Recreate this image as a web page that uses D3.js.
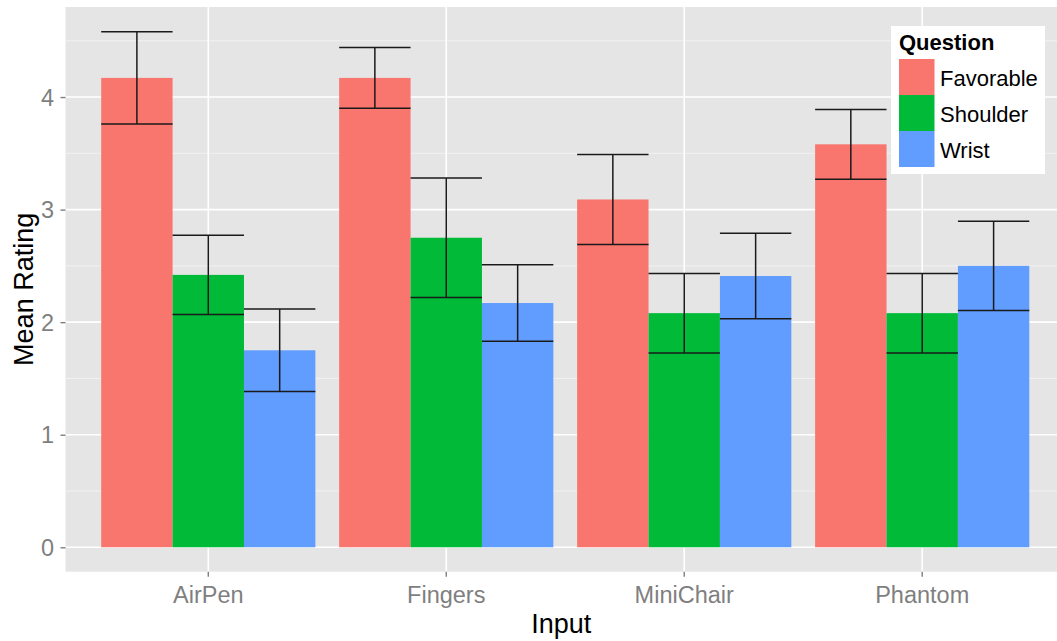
<!DOCTYPE html>
<html>
<head>
<meta charset="utf-8">
<script src="https://cdn.jsdelivr.net/npm/d3@7"></script>
<style>
  html, body { margin: 0; padding: 0; background: #ffffff; }
  svg { display: block; font-family: "Liberation Sans", Arial, sans-serif; }
</style>
</head>
<body>
<svg id="chart" width="1057" height="641"></svg>
<script>
// Mean rating per input device and question, with error half-widths
const categories = ["AirPen", "Fingers", "MiniChair", "Phantom"];
const questions = ["Favorable", "Shoulder", "Wrist"];
const favorable = [4.17, 4.17, 3.09, 3.58];
const favorableErr = [0.41, 0.27, 0.40, 0.31];
const shoulder = [2.42, 2.75, 2.08, 2.08];
const shoulderErr = [0.353, 0.53, 0.353, 0.353];
const wrist = [1.75, 2.17, 2.41, 2.50];
const wristErr = [0.366, 0.34, 0.38, 0.396];
const yTicks = [0, 1, 2, 3, 4];
const colors = ["#F8766D", "#00BA38", "#619CFF"];

const means = [favorable, shoulder, wrist];
const errs = [favorableErr, shoulderErr, wristErr];
const rows = [];
categories.forEach((c, i) => {
  questions.forEach((q, j) => {
    rows.push({ input: c, question: q, mean: means[j][i], err: errs[j][i] });
  });
});

const svg = d3.select("#chart");
const panel = { left: 65.5, right: 1065, top: 7, bottom: 571.7 };

const x = d3.scaleBand()
  .domain(categories)
  .range([panel.left, panel.right])
  .paddingInner(0.1)
  .paddingOuter(0.15);
const xInner = d3.scaleBand()
  .domain(questions)
  .range([0, x.bandwidth()])
  .padding(0);
const y = d3.scaleLinear()
  .domain([-0.217, 4.80])
  .range([panel.bottom, panel.top]);
const color = d3.scaleOrdinal().domain(questions).range(colors);

// panel background
svg.append("rect")
  .attr("x", panel.left).attr("y", panel.top)
  .attr("width", panel.right - panel.left)
  .attr("height", panel.bottom - panel.top)
  .attr("fill", "#E5E5E5");

const grid = svg.append("g");
// minor horizontal grid
const minor = d3.range(-0.5, 5, 1).filter(v => v > y.domain()[0] && v < y.domain()[1]);
grid.selectAll(".minor").data(minor).enter().append("line")
  .attr("x1", panel.left).attr("x2", panel.right)
  .attr("y1", d => y(d)).attr("y2", d => y(d))
  .attr("stroke", "#F2F2F2").attr("stroke-width", 1);
// major horizontal grid
grid.selectAll(".majorY").data(yTicks).enter().append("line")
  .attr("x1", panel.left).attr("x2", panel.right)
  .attr("y1", d => y(d)).attr("y2", d => y(d))
  .attr("stroke", "#FFFFFF").attr("stroke-width", 1.6);
// vertical grid at category centres
grid.selectAll(".majorX").data(categories).enter().append("line")
  .attr("x1", d => x(d) + x.bandwidth() / 2).attr("x2", d => x(d) + x.bandwidth() / 2)
  .attr("y1", panel.top).attr("y2", panel.bottom)
  .attr("stroke", "#FFFFFF").attr("stroke-width", 1.6);

// bars
svg.append("g").selectAll("rect").data(rows).enter().append("rect")
  .attr("x", d => x(d.input) + xInner(d.question))
  .attr("width", xInner.bandwidth())
  .attr("y", d => y(d.mean))
  .attr("height", d => y(0) - y(d.mean))
  .attr("fill", d => color(d.question));

// error bars
const eb = svg.append("g").attr("stroke", "#1a1a1a").attr("stroke-width", 1.5).attr("fill", "none");
rows.forEach(d => {
  const x0 = x(d.input) + xInner(d.question);
  const x1 = x0 + xInner.bandwidth();
  const xm = (x0 + x1) / 2;
  const yHi = y(d.mean + d.err), yLo = y(d.mean - d.err);
  eb.append("line").attr("x1", x0).attr("x2", x1).attr("y1", yHi).attr("y2", yHi);
  eb.append("line").attr("x1", x0).attr("x2", x1).attr("y1", yLo).attr("y2", yLo);
  eb.append("line").attr("x1", xm).attr("x2", xm).attr("y1", yHi).attr("y2", yLo);
});

// axes
const yAxis = svg.append("g")
  .attr("transform", `translate(${panel.left},0)`)
  .call(d3.axisLeft(y).tickValues(yTicks).tickSize(5).tickPadding(5).tickFormat(d3.format("d")));
const xAxis = svg.append("g")
  .attr("transform", `translate(0,${panel.bottom})`)
  .call(d3.axisBottom(x).tickSize(5).tickPadding(5));
[yAxis, xAxis].forEach(a => {
  a.select(".domain").remove();
  a.selectAll(".tick line").attr("stroke", "#7F7F7F").attr("stroke-width", 1.4);
  a.selectAll(".tick text").attr("fill", "#7F7F7F").style("font-size", "23.5px")
    .style("font-family", "'Liberation Sans', Arial, sans-serif");
});
xAxis.selectAll(".tick text").attr("dy", "0.71em").attr("y", 15);
yAxis.selectAll(".tick text").attr("x", -11.5).attr("dy", "0.35em");

// axis titles
svg.append("text")
  .attr("x", (panel.left + 1057) / 2).attr("y", 633)
  .attr("text-anchor", "middle")
  .style("font-size", "27px").attr("fill", "#000")
  .text("Input");
svg.append("text")
  .attr("transform", `translate(33,${(panel.top + panel.bottom) / 2}) rotate(-90)`)
  .attr("text-anchor", "middle")
  .style("font-size", "27px").attr("fill", "#000")
  .text("Mean Rating");

// legend
const lg = svg.append("g").attr("transform", "translate(891,26)");
lg.append("rect").attr("width", 154).attr("height", 148).attr("fill", "#FFFFFF");
lg.append("text").attr("x", 8).attr("y", 24)
  .style("font-size", "22px").style("font-weight", "bold").attr("fill", "#000")
  .text("Question");
const items = lg.selectAll(".item").data(questions).enter().append("g")
  .attr("transform", (d, i) => `translate(8,${33 + i * 36})`);
items.append("rect").attr("width", 35.5).attr("height", 36).attr("fill", d => color(d));
items.append("text").attr("x", 41).attr("y", 19).attr("dy", "0.35em")
  .style("font-size", "22px").attr("fill", "#000")
  .text(d => d);
</script>
</body>
</html>
